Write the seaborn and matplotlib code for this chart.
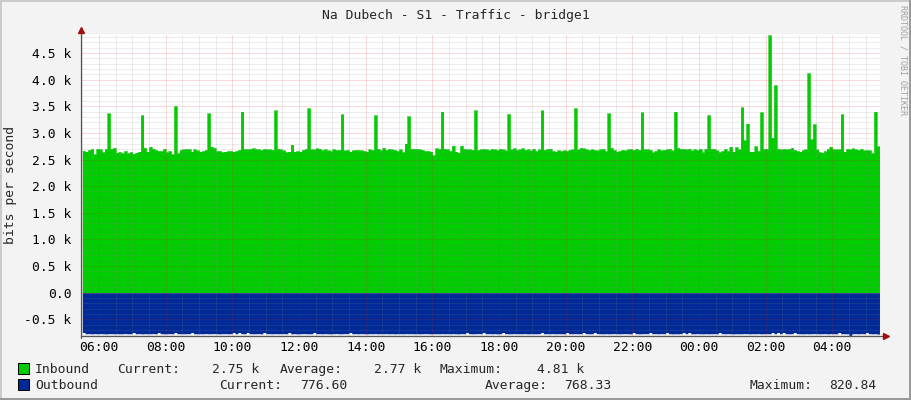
import numpy as np
import pandas as pd
import matplotlib
matplotlib.use('Agg')
import matplotlib.pyplot as plt
import seaborn as sns
from matplotlib.patches import Rectangle

# ── Data ──────────────────────────────────────────────────────
TITLE = 'Na Dubech - S1 - Traffic - bridge1'
Y_LABEL = 'bits per second'
WATERMARK = 'RRDTOOL / TOBI OETIKER'
START_HOUR = 5.5          # first sample 05:30
STEP_HOURS = 5 / 60       # 5 minute samples

# inbound bits/s, one row per hour of samples
inbound_rows = [
    [2660, 2650, 2680, 2700, 2600, 2700, 2690, 2640, 2700, 3365, 2700, 2720],
    [2630, 2640, 2620, 2660, 2620, 2640, 2610, 2630, 2650, 3330, 2720, 2650],
    [2740, 2700, 2680, 2660, 2660, 2700, 2640, 2660, 2600, 3500, 2620, 2680],
    [2690, 2700, 2690, 2650, 2690, 2670, 2650, 2660, 2680, 3365, 2740, 2720],
    [2660, 2660, 2640, 2650, 2660, 2660, 2650, 2660, 2680, 3400, 2700, 2690],
    [2700, 2710, 2700, 2690, 2680, 2700, 2690, 2690, 2680, 3420, 2700, 2690],
    [2670, 2640, 2650, 2780, 2650, 2660, 2650, 2680, 2700, 3460, 2690, 2690],
    [2710, 2700, 2680, 2690, 2670, 2660, 2690, 2680, 2680, 3350, 2670, 2680],
    [2650, 2670, 2680, 2680, 2670, 2660, 2650, 2690, 2680, 3330, 2700, 2680],
    [2720, 2680, 2700, 2690, 2680, 2660, 2690, 2640, 2800, 3310, 2700, 2700],
    [2700, 2690, 2680, 2660, 2660, 2650, 2580, 2710, 2700, 3400, 2700, 2690],
    [2660, 2760, 2650, 2630, 2760, 2700, 2690, 2690, 2680, 3420, 2680, 2690],
    [2700, 2690, 2680, 2700, 2690, 2680, 2700, 2690, 2670, 3350, 2690, 2710],
    [2680, 2690, 2710, 2680, 2690, 2670, 2700, 2660, 2690, 3420, 2680, 2700],
    [2700, 2660, 2650, 2670, 2660, 2670, 2660, 2680, 2690, 3460, 2690, 2720],
    [2710, 2690, 2680, 2690, 2680, 2670, 2690, 2700, 2660, 3365, 2720, 2680],
    [2650, 2660, 2680, 2670, 2690, 2700, 2680, 2700, 2680, 3385, 2690, 2690],
    [2680, 2640, 2660, 2690, 2670, 2680, 2690, 2700, 2670, 3400, 2720, 2700],
    [2700, 2690, 2700, 2670, 2690, 2680, 2700, 2640, 2700, 3330, 2700, 2700],
    [2670, 2640, 2660, 2700, 2660, 2740, 2650, 2730, 2690, 3480, 2860, 3175],
    [2650, 2650, 2750, 2660, 3385, 2700, 2700, 4830, 2910, 3890, 2700, 2690],
    [2700, 2690, 2700, 2720, 2680, 2660, 2650, 2680, 2690, 4120, 2880, 3160],
    [2690, 2640, 2630, 2660, 2700, 2740, 2690, 2690, 2690, 3350, 2650, 2700],
    [2690, 2710, 2690, 2680, 2700, 2670, 2680, 2670, 2620, 3400, 2750],
]

# outbound bits/s (drawn below zero)
outbound_rows = [
    [748, 771, 769, 773, 770, 772, 768, 771, 774, 770, 769, 772],
    [770, 773, 771, 768, 772, 770, 748, 771, 769, 773, 770, 772],
    [771, 769, 772, 748, 770, 773, 771, 769, 772, 748, 770, 771],
    [772, 770, 769, 748, 771, 773, 770, 772, 768, 771, 770, 769],
    [771, 773, 770, 769, 772, 770, 748, 771, 748, 770, 772, 748],
    [770, 772, 771, 769, 773, 748, 770, 771, 772, 769, 771, 770],
    [769, 771, 748, 772, 770, 773, 771, 769, 770, 772, 771, 748],
    [771, 770, 772, 769, 771, 773, 770, 768, 772, 771, 769, 770],
    [748, 771, 770, 772, 769, 771, 773, 770, 771, 769, 772, 770],
    [771, 769, 772, 770, 773, 771, 770, 772, 769, 771, 770, 772],
    [770, 772, 771, 769, 770, 773, 771, 770, 772, 769, 771, 770],
    [772, 770, 771, 773, 769, 771, 748, 770, 772, 771, 769, 770],
    [748, 771, 770, 772, 769, 773, 771, 748, 770, 772, 771, 769],
    [770, 772, 771, 769, 773, 770, 771, 772, 769, 748, 771, 770],
    [771, 769, 772, 770, 771, 773, 748, 770, 772, 769, 771, 770],
    [748, 770, 772, 771, 748, 769, 771, 773, 770, 772, 771, 769],
    [771, 772, 770, 769, 771, 773, 748, 770, 772, 771, 769, 770],
    [748, 771, 770, 772, 769, 771, 748, 770, 773, 771, 772, 769],
    [748, 770, 748, 771, 772, 769, 771, 773, 770, 772, 771, 770],
    [771, 748, 770, 772, 769, 771, 773, 770, 772, 771, 769, 770],
    [772, 770, 771, 769, 773, 771, 770, 772, 748, 771, 748, 770],
    [748, 771, 772, 770, 748, 769, 771, 773, 770, 772, 771, 769],
    [770, 772, 771, 769, 773, 770, 771, 772, 748, 770, 771, 772],
    [820.84, 771, 770, 772, 769, 771, 748, 770, 772, 771, 776.60],
]

tick_hours = [6, 8, 10, 12, 14, 16, 18, 20, 22, 24, 26, 28]
tick_labels = ['06:00', '08:00', '10:00', '12:00', '14:00', '16:00',
               '18:00', '20:00', '22:00', '00:00', '02:00', '04:00']
ytick_values = [-500, 0, 500, 1000, 1500, 2000, 2500, 3000, 3500, 4000, 4500]
ytick_labels = ['-0.5 k', '0.0', '0.5 k', '1.0 k', '1.5 k', '2.0 k',
                '2.5 k', '3.0 k', '3.5 k', '4.0 k', '4.5 k']

series_names = ['Inbound', 'Outbound']
legend_inbound = ['Current:', '2.75 k', 'Average:', '2.77 k', 'Maximum:', '4.81 k']
legend_outbound = ['Current:', '776.60', 'Average:', '768.33', 'Maximum:', '820.84']

# ── Prepare data ──────────────────────────────────────────────
inbound = np.concatenate([np.array(r, dtype=float) for r in inbound_rows])
outbound = np.concatenate([np.array(r, dtype=float) for r in outbound_rows])
hours = START_HOUR + np.arange(len(inbound)) * STEP_HOURS
df = pd.DataFrame({'hour': hours, 'inbound': inbound, 'outbound': -outbound})
x_ext = np.append(df['hour'].values, df['hour'].values[-1] + STEP_HOURS)
in_ext = np.append(df['inbound'].values, df['inbound'].values[-1])
out_ext = np.append(df['outbound'].values, df['outbound'].values[-1])

# ── Style / layout ────────────────────────────────────────────
W, H = 911, 400
GREEN = '#00CC00'
BLUE = '#002A97'
FS = 9.4
sns.set_theme(style='white')
plt.rcParams['font.family'] = ['DejaVu Sans Mono', 'DejaVu Sans']


def fx(x):
    return x / W


def fy(y):
    return 1 - y / H


fig = plt.figure(figsize=(W / 100, H / 100), dpi=100, facecolor='#F3F3F3')
top_px, bot_px = 34.3, 335.9
ax = fig.add_axes([fx(81), fy(bot_px), 799 / W, (bot_px - top_px) / H])
ax.set_facecolor('white')

ax.fill_between(x_ext, 0, in_ext, step='post', color=GREEN, lw=0, zorder=1)
ax.fill_between(x_ext, 0, out_ext, step='post', color=BLUE, lw=0, zorder=1)
sns.lineplot(x=x_ext, y=in_ext, ax=ax, color=GREEN, lw=0.4,
             drawstyle='steps-post', estimator=None, zorder=1.5)

ax.set_xlim(5.46, 5.46 + 799 / 33.33)
ax.set_ylim(-811, 4850)

# dotted grid drawn over the areas like rrdtool
dot = (0, (1, 1))
RED_GRID = (0.85, 0.1, 0.1)
grid_kw = dict(lw=0.72, ls=dot)
for h in np.arange(5.5, 29.5, 0.5):
    if h % 2 == 0:
        ax.axvline(h, color=RED_GRID, alpha=0.3, zorder=3, **grid_kw)
    else:
        ax.axvline(h, color='#8C8C8C', alpha=0.3, zorder=2, **grid_kw)
for v in np.arange(-800, 4900, 100):
    if v % 500 == 0:
        ax.axhline(v, color=RED_GRID, alpha=0.3, zorder=3, **grid_kw)
    else:
        ax.axhline(v, color='#8C8C8C', alpha=0.3, zorder=2, **grid_kw)

ax.set_xticks(tick_hours)
ax.set_xticklabels(tick_labels)
ax.set_yticks(ytick_values)
ax.set_yticklabels(ytick_labels)
ax.tick_params(axis='x', length=0, pad=4, labelsize=FS, labelcolor='black')
ax.tick_params(axis='y', length=0, pad=7, labelsize=FS, labelcolor='black')
for s in ax.spines.values():
    s.set_visible(False)

# axes with arrows
ext_y = 4 / (bot_px - top_px)
ext_x = 6 / 799
ax.plot([0, 0], [-0.008, 1 + ext_y], transform=ax.transAxes, color='#555555',
        lw=0.9, clip_on=False, zorder=5)
ax.plot([0, 1 + ext_x], [0, 0], transform=ax.transAxes, color='#555555',
        lw=0.9, clip_on=False, zorder=5)
ax.plot([0], [1 + ext_y], marker='^', ms=4.5, color='#A01010', mec='#A01010',
        transform=ax.transAxes, clip_on=False, zorder=6)
ax.plot([1 + ext_x], [0], marker='>', ms=4.5, color='#A01010', mec='#A01010',
        transform=ax.transAxes, clip_on=False, zorder=6)

# ── Texts ─────────────────────────────────────────────────────
fig.text(fx(455.5), fy(18.7), TITLE, ha='center', va='baseline', fontsize=FS)
fig.text(fx(11), fy(185), Y_LABEL, ha='center', va='center', rotation=90, fontsize=FS)
fig.text(fx(903), fy(5), WATERMARK, ha='center', va='top', rotation=270,
         fontsize=6.0, color='#A0A0A0')

# legend
row_base = [372.7, 388.7]
row_boxes = [363, 379]
row_x = [[116.7, 212.3, 279.3, 374.3, 440, 536.7],
         [219.3, 300, 485, 564.3, 749.3, 829.3]]
for name, colr, base, boxy, xs, items in zip(series_names, [GREEN, BLUE], row_base,
                                             row_boxes, row_x,
                                             [legend_inbound, legend_outbound]):
    fig.add_artist(Rectangle((fx(17.5), fy(boxy + 11)), 11 / W, 11 / H,
                             transform=fig.transFigure, facecolor=colr,
                             edgecolor='black', lw=0.72))
    fig.text(fx(35), fy(base), name, ha='left', va='baseline', fontsize=FS)
    for x, t in zip(xs, items):
        fig.text(fx(x), fy(base), t, ha='left', va='baseline', fontsize=FS)

# 3D frame
for (x0, y0, w, h, c) in [(0, 0, W, 2, '#CBCBCB'), (0, 0, 2, H, '#CBCBCB'),
                          (0, H - 2, W, 2, '#999999'), (W - 2, 0, 2, H, '#999999')]:
    fig.add_artist(Rectangle((fx(x0), fy(y0 + h)), w / W, h / H,
                             transform=fig.transFigure, facecolor=c, lw=0))

plt.savefig('out.png', dpi=100, facecolor=fig.get_facecolor())
plt.close()
